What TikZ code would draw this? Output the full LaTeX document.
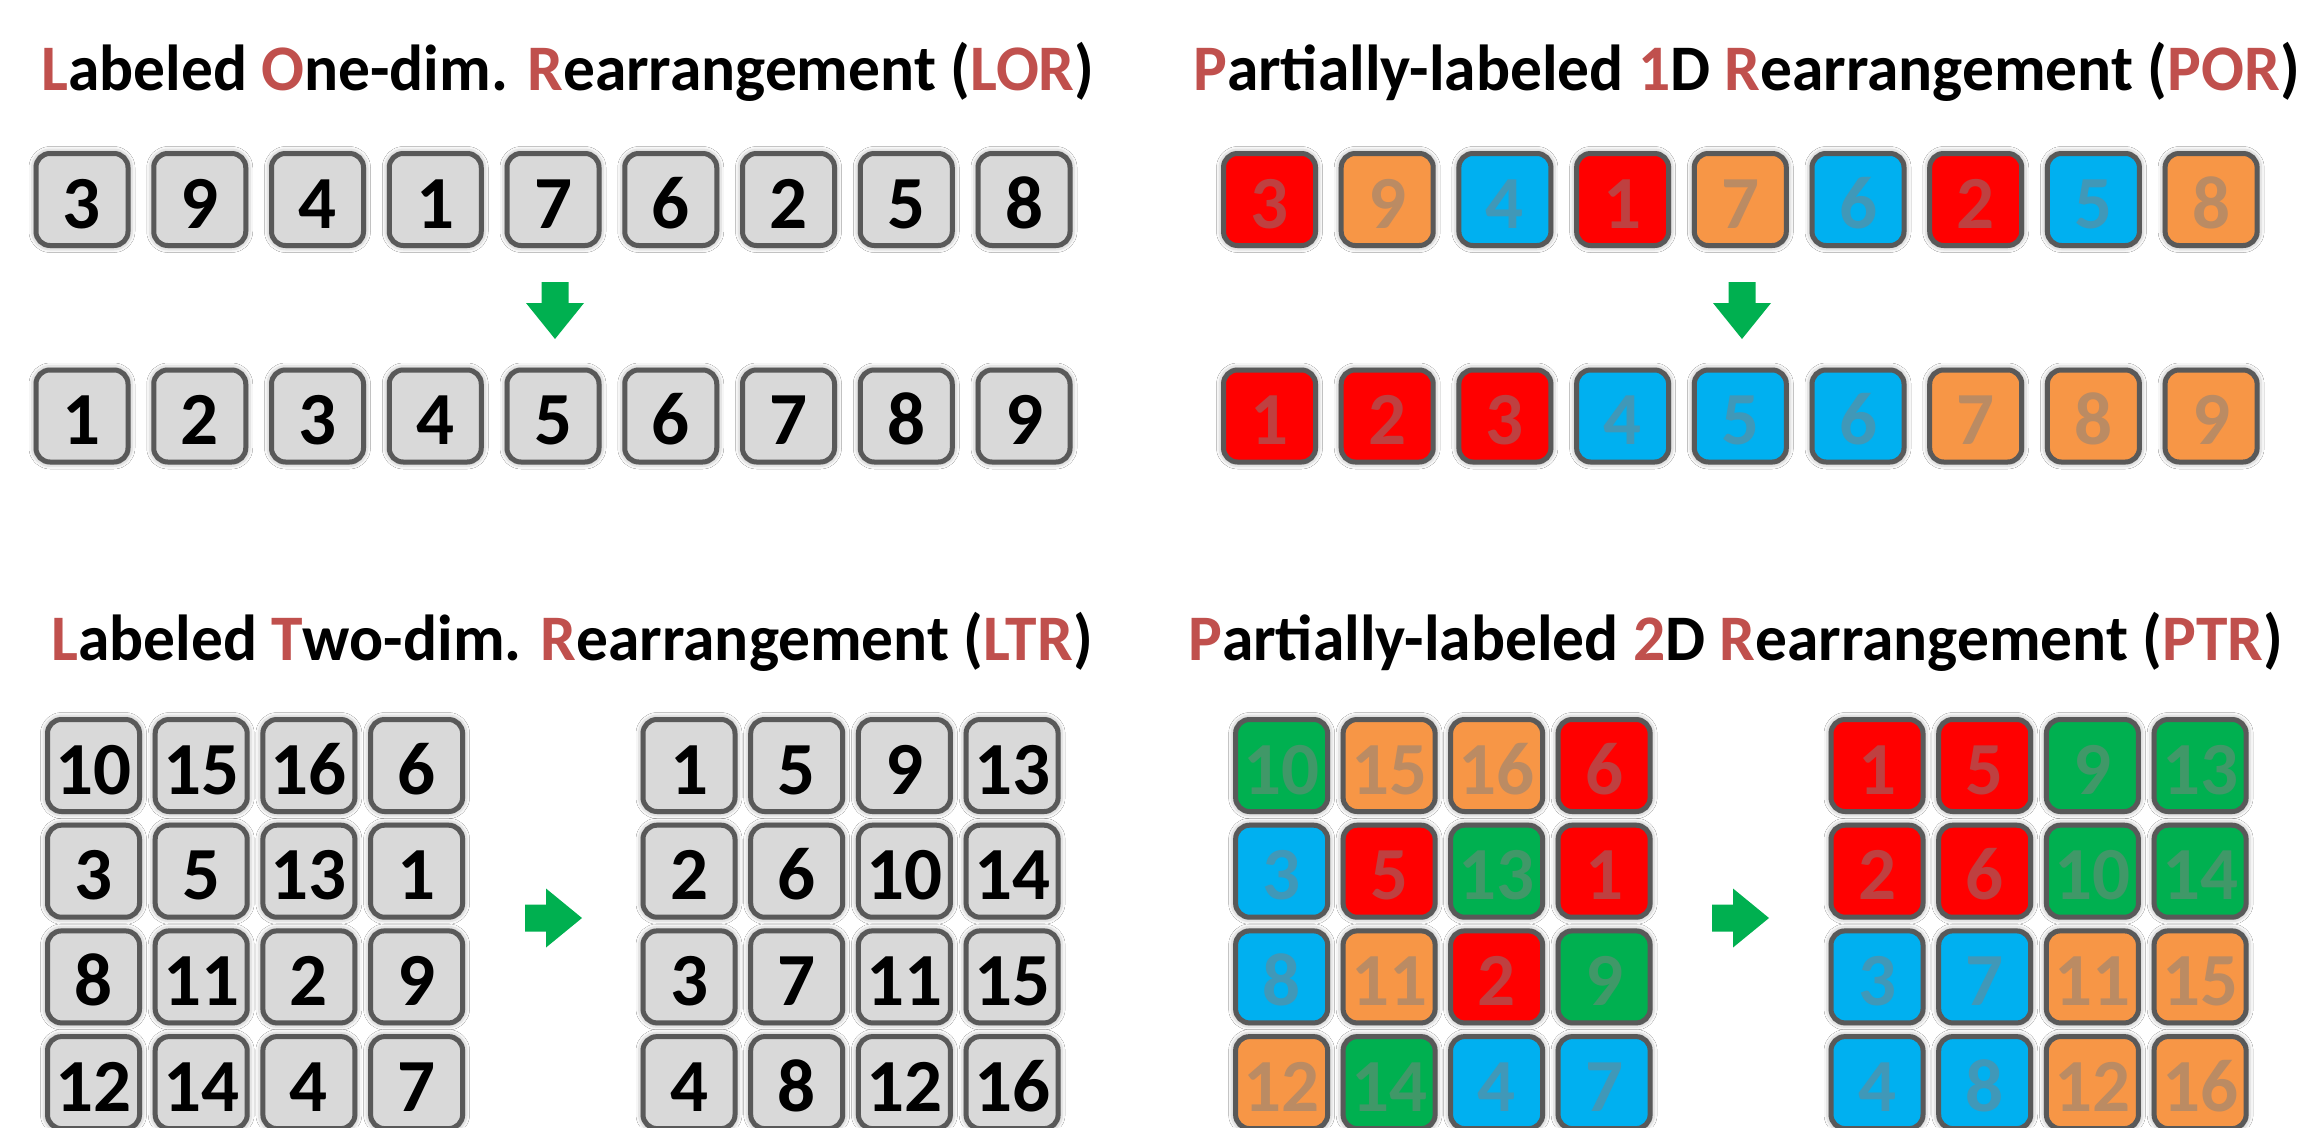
\documentclass[tikz,border=0pt]{standalone}
\usepackage{fontspec}
\usepackage{graphicx}
\setmainfont{Carlito}
\usetikzlibrary{shadows.blur}
\definecolor{tborder}{HTML}{595959}
\definecolor{tgray}{HTML}{D9D9D9}
\definecolor{tred}{HTML}{FF0000}
\definecolor{torange}{HTML}{F79646}
\definecolor{tblue}{HTML}{00B0F0}
\definecolor{tgreen}{HTML}{00B050}
\definecolor{xred}{RGB}{191,64,64}
\definecolor{xorange}{RGB}{187,139,99}
\definecolor{xblue}{RGB}{64,152,184}
\definecolor{xgreen}{RGB}{64,152,104}
\definecolor{titlered}{HTML}{C0504D}
\newcommand{\redl}[1]{\textcolor{titlered}{#1}}
\newcommand{\ttlbox}[1]{\scalebox{0.977}[1]{#1}}
\tikzset{
  tile/.style={draw=tborder, line width=5pt, rounded corners=14pt,
    minimum width=92pt, minimum height=92pt, inner sep=0pt,
    text height=57pt, text depth=0pt,
    font=\fontsize{75}{75}\selectfont\bfseries,
    blur shadow={shadow xshift=0pt, shadow yshift=0pt, shadow blur radius=7pt, shadow opacity=55}},
  G/.style={tile, fill=tgray, text=black},
  R/.style={tile, fill=tred, text=xred},
  O/.style={tile, fill=torange, text=xorange},
  B/.style={tile, fill=tblue, text=xblue},
  N/.style={tile, fill=tgreen, text=xgreen},
  title/.style={anchor=base west, inner sep=0pt, font=\fontsize{65}{70}\selectfont\bfseries},
  garrow/.style={fill=tgreen}
}
\begin{document}
\begin{tikzpicture}[x=1pt,y=-1pt]
\useasboundingbox (0,0) rectangle (2307,1127);
\fill[white] (0,0) rectangle (2307,1127);

% titles
\node[title] (lor) at (41,90) {\ttlbox{\redl{L}abeled \redl{O}ne-dim. \redl{R}earrangement (\redl{LOR})}};
\node[title] (por) at (1193,90) {\ttlbox{\redl{P}artially-labeled \redl{1}D \redl{R}earrangement (\redl{POR})}};
\node[title] (ltr) at (51,660) {\ttlbox{\redl{L}abeled \redl{T}wo-dim. \redl{R}earrangement (\redl{LTR})}};
\node[title] (ptr) at (1188,660) {\ttlbox{\redl{P}artially-labeled \redl{2}D \redl{R}earrangement (\redl{PTR})}};

% LOR
\foreach \n [count=\i from 0] in {3,9,4,1,7,6,2,5,8}
  \node[G] (lora\i) at ({82+117.75*\i},199.5) {\n};
\foreach \n [count=\i from 0] in {1,2,3,4,5,6,7,8,9}
  \node[G] (lorb\i) at ({82+117.75*\i},416) {\n};

% POR
\foreach \s/\n [count=\i from 0] in {R/3,O/9,B/4,R/1,O/7,B/6,R/2,B/5,O/8}
  \node[\s] (pora\i) at ({1269.5+117.7*\i},199.5) {\n};
\foreach \s/\n [count=\i from 0] in {R/1,R/2,R/3,B/4,B/5,B/6,O/7,O/8,O/9}
  \node[\s] (porb\i) at ({1269.5+117.7*\i},416) {\n};

% LTR
\foreach \row [count=\r from 0] in {{10,15,16,6},{3,5,13,1},{8,11,2,9},{12,14,4,7}}
  \foreach \n [count=\c from 0] in \row
    \node[G] (ltra\r\c) at ({93.5+107.7*\c},{765.5+105.7*\r}) {\n};
\foreach \row [count=\r from 0] in {{1,5,9,13},{2,6,10,14},{3,7,11,15},{4,8,12,16}}
  \foreach \n [count=\c from 0] in \row
    \node[G] (ltrb\r\c) at ({689+107.7*\c},{765.5+105.7*\r}) {\n};

% PTR
\foreach \row [count=\r from 0] in {{N/10,O/15,O/16,R/6},{B/3,R/5,N/13,R/1},{B/8,O/11,R/2,N/9},{O/12,N/14,B/4,B/7}}
  \foreach \s/\n [count=\c from 0] in \row
    \node[\s] (ptra\r\c) at ({1281.6+107.5*\c},{765.5+105.7*\r}) {\n};
\foreach \row [count=\r from 0] in {{R/1,R/5,N/9,N/13},{R/2,R/6,N/10,N/14},{B/3,B/7,O/11,O/15},{B/4,B/8,O/12,O/16}}
  \foreach \s/\n [count=\c from 0] in \row
    \node[\s] (ptrb\r\c) at ({1877+107.7*\c},{765.5+105.7*\r}) {\n};

% arrows
\foreach \c in {555,1742}
  \fill[garrow] ({\c-13.5},282) -- ({\c+13.5},282) -- ({\c+13.5},303) -- ({\c+29},303)
    -- (\c,339) -- ({\c-29},303) -- ({\c-13.5},303) -- cycle;
\foreach \c in {525,1712}
  \fill[garrow] (\c,904.5) -- ({\c+21},904.5) -- ({\c+21},888.5) -- ({\c+57},918)
    -- ({\c+21},947.5) -- ({\c+21},931.5) -- (\c,931.5) -- cycle;
\end{tikzpicture}
\end{document}
